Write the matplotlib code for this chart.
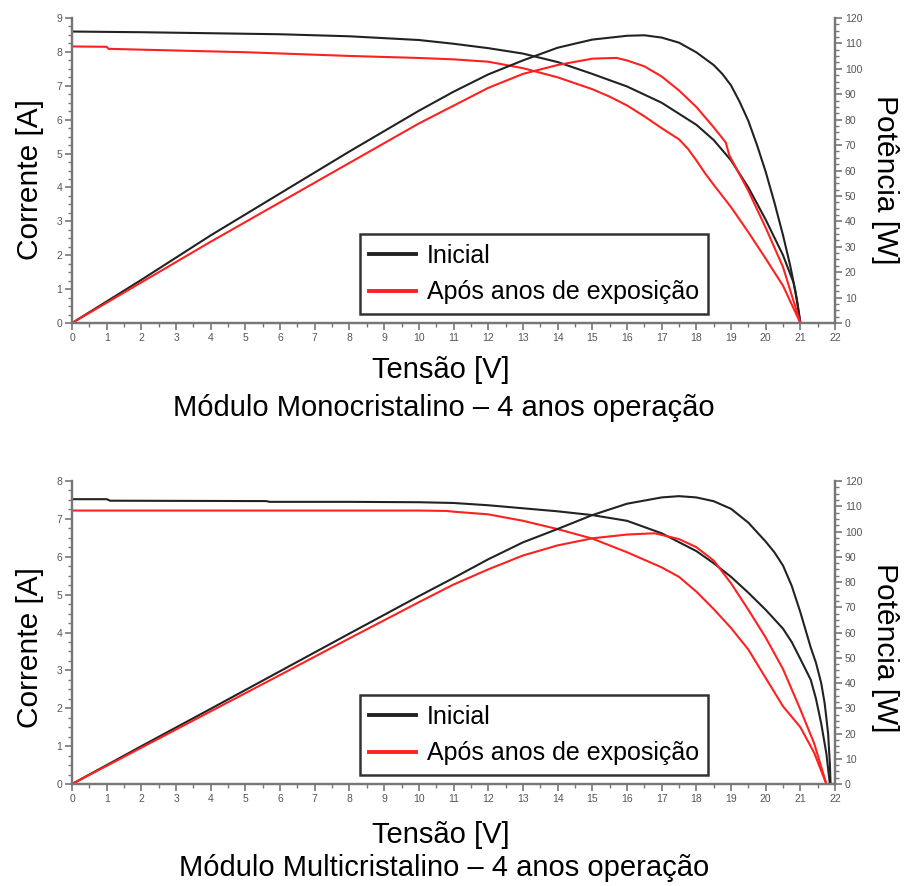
import matplotlib.pyplot as plt
from matplotlib.ticker import MultipleLocator

# Monocristalino - curvas I-V e P-V
mono_v_i_ini = [0, 2, 4, 6, 8, 10, 11, 12, 13, 14, 15, 16, 17, 18, 18.5, 19, 19.5, 20, 20.5, 20.8, 20.9, 21]
mono_i_ini = [8.60, 8.58, 8.55, 8.52, 8.46, 8.35, 8.24, 8.11, 7.95, 7.70, 7.35, 6.98, 6.50, 5.85, 5.40, 4.80, 4.00, 3.05, 2.00, 1.20, 0.70, 0]
mono_v_p_ini = [0, 2, 4, 6, 8, 10, 11, 12, 13, 14, 15, 16, 16.5, 17, 17.5, 18, 18.5, 18.75, 19, 19.25, 19.5,
                19.75, 20, 20.25, 20.5, 20.7, 20.85, 21]
mono_p_ini = [0, 17, 34.5, 51, 67.5, 83.5, 91, 97.8, 103.3, 108.3, 111.5, 113, 113.2, 112.3, 110.3, 106.5, 101.5, 98,
              93.5, 87, 79.5, 70, 59.5, 47.5, 34.5, 23, 13, 0]
mono_v_i_exp = [0, 1, 1.05, 3, 5, 8, 10, 11, 12, 13, 14, 15, 15.5, 16, 16.5, 17, 17.5, 17.75, 18, 18.25, 18.5,
                19, 19.5, 20, 20.5, 21]
mono_i_exp = [8.16, 8.15, 8.09, 8.04, 7.99, 7.88, 7.82, 7.78, 7.71, 7.52, 7.25, 6.90, 6.68, 6.42, 6.10, 5.75, 5.42,
              5.15, 4.80, 4.42, 4.08, 3.42, 2.68, 1.90, 1.10, 0]
mono_v_p_exp = [0, 2, 4, 6, 8, 10, 11, 12, 13, 14, 15, 15.7, 16, 16.5, 17, 17.5, 18, 18.5, 18.85, 18.95, 19.5,
                20, 20.5, 21]
mono_p_exp = [0, 16, 32, 47.5, 63, 78.5, 85.5, 92.5, 98, 101.5, 104, 104.3, 103.3, 101, 97, 91.5, 85, 77, 71, 66,
              52, 37.5, 22, 0]

# Multicristalino - curvas I-V e P-V
multi_v_i_ini = [0, 1.0, 1.1, 5.6, 5.7, 8, 10, 11, 12, 13, 14, 15, 16, 17, 18, 18.5, 19, 19.5, 20, 20.5, 20.75,
                 21, 21.3, 21.45, 21.6, 21.75, 21.85]
multi_i_ini = [7.52, 7.52, 7.48, 7.47, 7.45, 7.45, 7.44, 7.42, 7.36, 7.28, 7.20, 7.10, 6.95, 6.62, 6.15, 5.83, 5.47,
               5.05, 4.60, 4.10, 3.75, 3.30, 2.75, 2.25, 1.60, 0.80, 0]
multi_v_p_ini = [0, 2, 4, 6, 8, 10, 11, 12, 13, 14, 15, 16, 17, 17.5, 18, 18.5, 19, 19.5, 20, 20.25, 20.5, 20.75,
                 21, 21.3, 21.45, 21.6, 21.7, 21.8, 21.85, 21.87]
multi_p_ini = [0, 15, 29.8, 44.7, 59.6, 74.4, 81.6, 89, 95.7, 101, 106.5, 111, 113.5, 114, 113.5, 112, 109, 103.5,
               96, 91.8, 86.5, 78.5, 68, 54, 48, 40, 32, 20, 8, 0]
multi_v_i_exp = [0, 5, 10, 10.8, 11, 12, 13, 14, 15, 16, 17, 17.5, 18, 18.5, 19, 19.5, 20, 20.5, 21, 21.4, 21.75]
multi_i_exp = [7.22, 7.22, 7.22, 7.21, 7.19, 7.12, 6.95, 6.73, 6.48, 6.12, 5.72, 5.47, 5.08, 4.62, 4.12, 3.55, 2.80,
               2.05, 1.50, 0.82, 0]
multi_v_p_exp = [0, 2, 4, 6, 8, 10, 11, 12, 13, 14, 15, 16, 16.8, 17.5, 18, 18.5, 19, 19.5, 20, 20.5, 21, 21.4, 21.75]
multi_p_exp = [0, 14.4, 28.8, 43.2, 57.7, 72, 79, 85, 90.5, 94.5, 97.3, 98.8, 99.3, 97, 93.8, 88.5, 79.5, 69, 58,
               45.5, 29.5, 16, 0]

legend_labels = ["Inicial", "Após anos de exposição"]
x_label = "Tensão [V]"
y_label_left = "Corrente [A]"
y_label_right = "Potência [W]"
titles = ["Módulo Monocristalino – 4 anos operação", "Módulo Multicristalino – 4 anos operação"]

narrow = ['Liberation Sans Narrow', 'Liberation Sans']
regular = ['Liberation Sans', 'DejaVu Sans']
black = '#222222'
red = '#ff2020'
axis_gray = '#777777'


def draw_panel(ax, vi_ini, i_ini, vp_ini, p_ini, vi_exp, i_exp, vp_exp, p_exp, ymax, label_y):
    ax2 = ax.twinx()
    l1, = ax.plot(vi_ini, i_ini, color=black, lw=1.5)
    l2, = ax.plot(vi_exp, i_exp, color=red, lw=1.5)
    ax2.plot(vp_ini, p_ini, color=black, lw=1.5)
    ax2.plot(vp_exp, p_exp, color=red, lw=1.5)

    ax.set_xlim(0, 22)
    ax.set_ylim(0, ymax)
    ax2.set_ylim(0, 120)
    ax.xaxis.set_major_locator(MultipleLocator(1))
    ax.xaxis.set_minor_locator(MultipleLocator(0.5))
    ax.yaxis.set_major_locator(MultipleLocator(1))
    ax.yaxis.set_minor_locator(MultipleLocator(0.25))
    ax2.yaxis.set_major_locator(MultipleLocator(10))
    ax2.yaxis.set_minor_locator(MultipleLocator(2.5))

    for a in (ax, ax2):
        a.spines['top'].set_visible(False)
        for s in ('left', 'right', 'bottom'):
            a.spines[s].set_color(axis_gray)
            a.spines[s].set_linewidth(1.6)
        a.tick_params(which='major', length=5, width=1.2, color=axis_gray,
                      labelsize=7.5, labelcolor='#555555', pad=2)
        a.tick_params(which='minor', length=3, width=1.0, color=axis_gray)
        for lab in a.get_xticklabels() + a.get_yticklabels():
            lab.set_family(narrow)

    ax.set_ylabel(y_label_left, fontsize=21.5, family=regular, ha='center', va='center')
    ax.yaxis.set_label_coords(-0.055, label_y)
    ax2.set_ylabel(y_label_right, fontsize=21.5, family=regular, rotation=-90, ha='center', va='center')
    ax2.yaxis.set_label_coords(1.0655, label_y)

    leg = ax2.legend([l1, l2], legend_labels, loc='lower right', bbox_to_anchor=(0.834, 0.03),
                     prop={'family': regular, 'size': 18}, frameon=True, fancybox=False,
                     handlelength=1.85, handletextpad=0.45, borderpad=0.38, labelspacing=0.5,
                     borderaxespad=0)
    leg.get_frame().set_edgecolor('black')
    leg.get_frame().set_linewidth(1.8)
    for h in leg.get_lines():
        h.set_linewidth(2.8)
    return ax2


fig = plt.figure(figsize=(9.06, 8.86), dpi=100)
ax_top = fig.add_axes([0.0795, 0.6354, 0.8422, 0.3443])
ax_bot = fig.add_axes([0.0795, 0.1151, 0.8422, 0.3420])

draw_panel(ax_top, mono_v_i_ini, mono_i_ini, mono_v_p_ini, mono_p_ini,
           mono_v_i_exp, mono_i_exp, mono_v_p_exp, mono_p_exp, 9, 0.47)
draw_panel(ax_bot, multi_v_i_ini, multi_i_ini, multi_v_p_ini, multi_p_ini,
           multi_v_i_exp, multi_i_exp, multi_v_p_exp, multi_p_exp, 8, 0.45)

fig.text(0.487, 1 - 370 / 886, x_label, ha='center', va='center', fontsize=21, family=narrow)
fig.text(0.49, 1 - 408 / 886, titles[0], ha='center', va='center', fontsize=21, family=narrow)
fig.text(0.487, 1 - 835 / 886, x_label, ha='center', va='center', fontsize=21, family=narrow)
fig.text(0.49, 1 - 868 / 886, titles[1], ha='center', va='center', fontsize=21, family=narrow)

fig.savefig('out.png', dpi=100)
